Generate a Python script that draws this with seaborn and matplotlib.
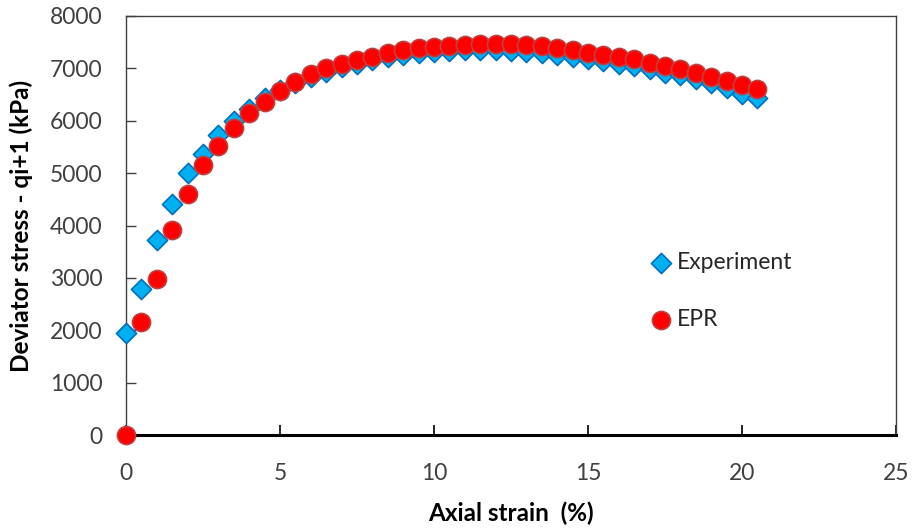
import numpy as np
import pandas as pd
import matplotlib
matplotlib.use("Agg")
import matplotlib.pyplot as plt
import seaborn as sns

strain = [0, 0.5, 1, 1.5, 2, 2.5, 3, 3.5, 4, 4.5, 5, 5.5, 6, 6.5, 7, 7.5, 8, 8.5, 9, 9.5,
          10, 10.5, 11, 11.5, 12, 12.5, 13, 13.5, 14, 14.5, 15, 15.5, 16, 16.5, 17, 17.5,
          18, 18.5, 19, 19.5, 20, 20.5]
experiment = [1950, 2780, 3730, 4420, 5000, 5370, 5730, 6000, 6230, 6430, 6580, 6720, 6840,
              6940, 7020, 7090, 7160, 7220, 7260, 7290, 7310, 7330, 7345, 7360, 7355, 7340,
              7310, 7290, 7255, 7220, 7185, 7150, 7090, 7040, 6990, 6910, 6870, 6800, 6720,
              6620, 6520, 6430]
epr = [0, 2150, 2980, 3910, 4600, 5150, 5520, 5865, 6140, 6360, 6570, 6740, 6890, 7000, 7090,
       7160, 7220, 7300, 7350, 7380, 7405, 7425, 7445, 7465, 7470, 7465, 7450, 7425, 7390,
       7345, 7300, 7260, 7220, 7170, 7110, 7045, 6980, 6915, 6840, 6760, 6680, 6600]

x_ticks = [0, 5, 10, 15, 20, 25]
y_ticks = [0, 1000, 2000, 3000, 4000, 5000, 6000, 7000, 8000]
x_label = "Axial strain  (%)"
y_label = "Deviator stress - qi+1 (kPa)"

sns.set_style("white")
plt.rcParams['font.family'] = ['Lato', 'DejaVu Sans']

df = pd.DataFrame({"strain": strain, "Experiment": experiment, "EPR": epr})

fig = plt.figure(figsize=(9.16, 5.31), dpi=100)
ax = fig.add_axes([126/916, 1-435/531, (896-126)/916, (435-16)/531])

sns.scatterplot(data=df, x="strain", y="Experiment", ax=ax, marker="D", s=105,
                color="#00B0F0", edgecolor="#0070C0", linewidth=1.2, label="Experiment",
                zorder=3, clip_on=False)
sns.scatterplot(data=df, x="strain", y="EPR", ax=ax, marker="o", s=170,
                color="#FF0000", edgecolor="#C04040", linewidth=1.2, label="EPR",
                zorder=4, clip_on=False)

ax.set_xlim(0, 25)
ax.set_ylim(0, 8000)
ax.set_xticks(x_ticks)
ax.set_yticks(y_ticks)
ax.set_xticklabels([str(v) for v in x_ticks])
ax.set_yticklabels([str(v) for v in y_ticks])

ax.tick_params(axis='x', direction='in', length=7, width=1.2, pad=20, labelsize=16.5,
               colors='#404040', bottom=True, color='black')
ax.tick_params(axis='y', direction='in', length=7, width=1, pad=17, labelsize=16.5,
               colors='#404040', left=True, color='#404040')

for side in ['top', 'right', 'left']:
    ax.spines[side].set_color('#404040')
    ax.spines[side].set_linewidth(1.0)
ax.spines['bottom'].set_color('black')
ax.spines['bottom'].set_linewidth(2.2)

ax.set_xlabel(x_label, fontsize=17.5, fontweight='bold', color='black', labelpad=13)
ax.set_ylabel(y_label, fontsize=17.5, fontweight='bold', color='black', labelpad=12)

leg = ax.legend(loc='upper left', bbox_to_anchor=(652/916, 1-252/531),
                bbox_transform=fig.transFigure, frameon=False, fontsize=16.5,
                borderpad=0, borderaxespad=0, handlelength=0.8, handletextpad=0.3,
                labelspacing=1.55)
for t in leg.get_texts():
    t.set_color('#262626')

fig.savefig("out.png", dpi=100)
